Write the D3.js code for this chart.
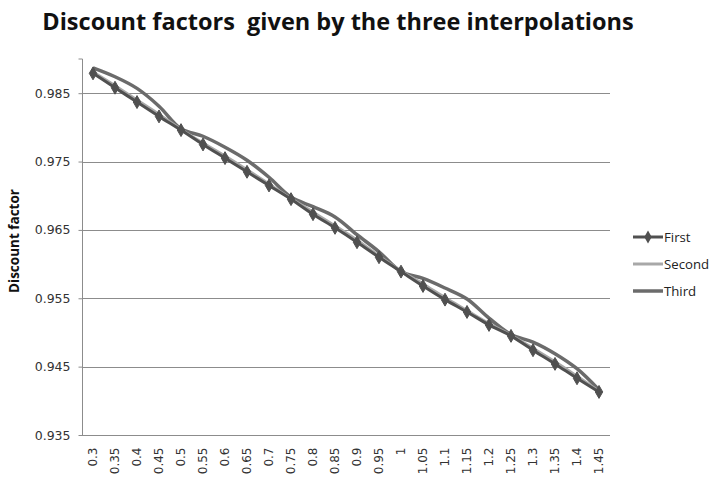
<!DOCTYPE html>
<html><head><meta charset="utf-8">
<script src="https://cdn.jsdelivr.net/npm/d3@7"></script>
<style>body{margin:0;background:#fff}svg{display:block}</style>
</head><body>
<script>
const categories = ["0.3","0.35","0.4","0.45","0.5","0.55","0.6","0.65","0.7","0.75","0.8","0.85","0.9","0.95","1","1.05","1.1","1.15","1.2","1.25","1.3","1.35","1.4","1.45"];
const firstValues  = [0.9879,0.9858,0.9837,0.9816,0.9796,0.9775,0.9755,0.9735,0.9715,0.9695,0.9673,0.9653,0.9632,0.9610,0.9589,0.9568,0.9548,0.9530,0.9511,0.9495,0.9474,0.9454,0.9433,0.9413];
const secondValues = [0.9881,0.9861,0.9840,0.9819,0.9797,0.9777,0.9758,0.9738,0.9717,0.9696,0.9676,0.9656,0.9635,0.9612,0.9590,0.9571,0.9551,0.9532,0.9513,0.9496,0.9477,0.9457,0.9436,0.9414];
const thirdValues  = [0.9887,0.9874,0.9857,0.9831,0.9798,0.9787,0.9771,0.9752,0.9727,0.9698,0.9684,0.9669,0.9643,0.9618,0.9589,0.9579,0.9565,0.9549,0.9521,0.9497,0.9486,0.9469,0.9447,0.9416];
const yTicks = [0.935,0.945,0.955,0.965,0.975,0.985];
const seriesNames = ["First","Second","Third"];

const W=715,H=477;
const svg=d3.select("body").append("svg").attr("width",W).attr("height",H);
const pL=82,pR=610,pT=59,pB=435;
const x=d3.scaleBand().domain(categories).range([pL,pR]);
const y=d3.scaleLinear().domain([0.935,0.99]).range([pB,pT]);

// title
svg.append("text").attr("x",338).attr("y",30).attr("text-anchor","middle").style("white-space","pre")
  .attr("font-family","'Open Sans',sans-serif").attr("font-weight","bold").attr("font-size",23.5)
  .attr("fill","#111").text("Discount factors  given by the three interpolations");

// gridlines
svg.append("g").selectAll("line").data(yTicks.slice(1)).join("line")
  .attr("x1",pL).attr("x2",pR).attr("y1",d=>Math.round(y(d))+0.5).attr("y2",d=>Math.round(y(d))+0.5)
  .attr("stroke","#8c8c8c").attr("stroke-width",1);

// y axis
const ya=svg.append("g").attr("transform",`translate(${pL+0.5},0)`)
  .call(d3.axisLeft(y).tickValues(yTicks).tickFormat(d3.format(".3f")).tickSize(4).tickPadding(8));
ya.select(".domain").attr("stroke","#8c8c8c").attr("d",`M-4,${pT}H0V${pB+0.5}`);
ya.selectAll(".tick line").attr("stroke","#8c8c8c");
ya.selectAll(".tick text").attr("font-family","'DejaVu Sans',sans-serif").attr("font-size",12.5).attr("fill","#333");

// x axis
const xa=svg.append("g").attr("transform",`translate(0,${pB+0.5})`)
  .call(d3.axisBottom(x).tickSize(0).tickPadding(0));
xa.select(".domain").attr("stroke","#8c8c8c").attr("d",`M${pL},0H${pR}`);
xa.selectAll(".tick text").attr("font-family","'DejaVu Sans',sans-serif").attr("font-size",12).attr("fill","#333")
  .attr("transform","rotate(-90)").attr("text-anchor","end").attr("x",-12).attr("y",0).attr("dy","0.35em");

// y label
svg.append("text").attr("transform","translate(19,241) rotate(-90)").attr("text-anchor","middle")
  .attr("font-family","'Open Sans',sans-serif").attr("font-weight","bold").attr("font-size",13.5)
  .attr("fill","#111").text("Discount factor");

const cx=d=>x(d)+x.bandwidth()/2;
const line=vals=>d3.line().x((d,i)=>cx(categories[i])).y(d=>y(d)).curve(d3.curveCatmullRom.alpha(0.5))(vals);

const colors={First:"#505050",Second:"#a8a8a8",Third:"#6b6b6b"};
const widths={First:3,Second:3,Third:3.5};

svg.append("path").attr("d",line(thirdValues)).attr("fill","none").attr("stroke",colors.Third).attr("stroke-width",widths.Third);
svg.append("path").attr("d",line(secondValues)).attr("fill","none").attr("stroke",colors.Second).attr("stroke-width",widths.Second);
svg.append("path").attr("d",line(firstValues)).attr("fill","none").attr("stroke",colors.First).attr("stroke-width",widths.First);

const diamond=d3.symbol().type(d3.symbolDiamond).size(48);
svg.append("g").selectAll("path").data(firstValues).join("path")
  .attr("d",diamond).attr("transform",(d,i)=>`translate(${cx(categories[i])},${y(d)})`)
  .attr("fill",colors.First).attr("stroke",colors.First).attr("stroke-width",1);

// legend
const lg=svg.append("g");
seriesNames.forEach((n,i)=>{
  const yy=237+i*27;
  lg.append("line").attr("x1",633).attr("x2",663).attr("y1",yy).attr("y2",yy).attr("stroke",colors[n]).attr("stroke-width",widths[n]);
  if(n==="First") lg.append("path").attr("d",diamond).attr("transform",`translate(648,${yy})`).attr("fill",colors.First);
  lg.append("text").attr("x",664).attr("y",yy).attr("dy","0.35em").attr("font-family","'Open Sans',sans-serif")
    .attr("font-size",13.2).attr("fill","#222").text(n);
});
</script>
</body></html>
